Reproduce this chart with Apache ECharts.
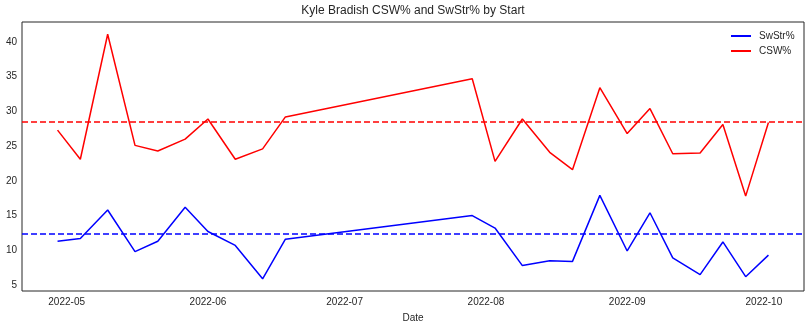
<!DOCTYPE html>
<html>
<head>
<meta charset="utf-8">
<script src="https://cdn.jsdelivr.net/npm/echarts@6/dist/echarts.min.js"></script>
<style>html,body{margin:0;padding:0;background:#fff}#c{width:810px;height:328px}</style>
</head>
<body>
<div id="c"></div>
<script>
const dates = ['2022-04-29','2022-05-04','2022-05-10','2022-05-16','2022-05-21','2022-05-27','2022-06-01','2022-06-07','2022-06-13','2022-06-18','2022-07-29','2022-08-03','2022-08-09','2022-08-15','2022-08-20','2022-08-26','2022-09-01','2022-09-06','2022-09-11','2022-09-17','2022-09-22','2022-09-27','2022-10-02'];
const swstr = [11.3,11.7,15.8,9.8,11.3,16.2,12.7,10.7,5.9,11.6,15.0,13.2,7.8,8.5,8.4,17.9,9.9,15.4,8.9,6.5,11.2,6.2,9.3];
const csw = [27.3,23.1,41.1,25.1,24.3,26.0,28.9,23.1,24.6,29.2,34.7,22.8,28.9,24.1,21.6,33.4,26.8,30.4,23.9,24.0,28.1,17.8,28.4];
const swstrMean = 12.4;
const cswMean = 28.5;
const xTicks = ['2022-05-01','2022-06-01','2022-07-01','2022-08-01','2022-09-01','2022-10-01'];
const yTicks = [5,10,15,20,25,30,35,40];
const title = 'Kyle Bradish CSW% and SwStr% by Start';

const ts = d => Date.parse(d + 'T00:00:00Z');
const xMin = ts('2022-04-29') - 7.8*86400000;
const xMax = ts('2022-10-02') + 7.8*86400000;
const font = 'Liberation Sans';
const txt = '#262626';

const chart = echarts.init(document.getElementById('c'), null, {renderer:'canvas'});
chart.setOption({
  animation: false,
  backgroundColor: '#fff',
  textStyle: {fontFamily: font},
  title: {text: title, left: 413, textAlign: 'center', top: 5, padding: 0,
    textStyle: {fontFamily: font, fontSize: 12, fontWeight: 'normal', color: txt}},
  legend: {orient: 'vertical', left: 731, top: 31, padding: 0, itemGap: 5, itemWidth: 20, itemHeight: 2,
    icon: 'rect', textStyle: {fontFamily: font, fontSize: 10, color: txt, padding: [0,0,0,3]},
    data: ['SwStr%','CSW%']},
  grid: {left: 22, right: 6, top: 22, bottom: 35, show: true, borderColor: '#262626', borderWidth: 1, containLabel: false},
  xAxis: {type: 'value', min: xMin, max: xMax, name: 'Date', nameLocation: 'middle', nameGap: 22,
    nameTextStyle: {fontFamily: font, fontSize: 10, color: txt},
    axisLine: {show: false}, axisTick: {show: false}, splitLine: {show: false},
    axisLabel: {customValues: xTicks.map(ts), color: txt, fontFamily: font, fontSize: 10, margin: 6,
      formatter: v => { const d = new Date(v); return d.getUTCFullYear() + '-' + String(d.getUTCMonth()+1).padStart(2,'0'); }}},
  yAxis: {type: 'value', min: 4.14, max: 42.86,
    axisLine: {show: false}, axisTick: {show: false}, splitLine: {show: false},
    axisLabel: {customValues: yTicks, color: txt, fontFamily: font, fontSize: 10, margin: 5}},
  series: [
    {name: 'SwStr%', type: 'line', data: dates.map((d,i)=>[ts(d), swstr[i]]), showSymbol: false, symbol: 'none',
      lineStyle: {color: '#0000ff', width: 1.5}, itemStyle: {color: '#0000ff'},
      markLine: {silent: true, symbol: 'none', label: {show: false}, data: [{yAxis: swstrMean}],
        lineStyle: {color: '#0000ff', type: [6,3], width: 1.5}}},
    {name: 'CSW%', type: 'line', data: dates.map((d,i)=>[ts(d), csw[i]]), showSymbol: false, symbol: 'none',
      lineStyle: {color: '#ff0000', width: 1.5}, itemStyle: {color: '#ff0000'},
      markLine: {silent: true, symbol: 'none', label: {show: false}, data: [{yAxis: cswMean}],
        lineStyle: {color: '#ff0000', type: [6,3], width: 1.5}}}
  ]
});
</script>
</body>
</html>
